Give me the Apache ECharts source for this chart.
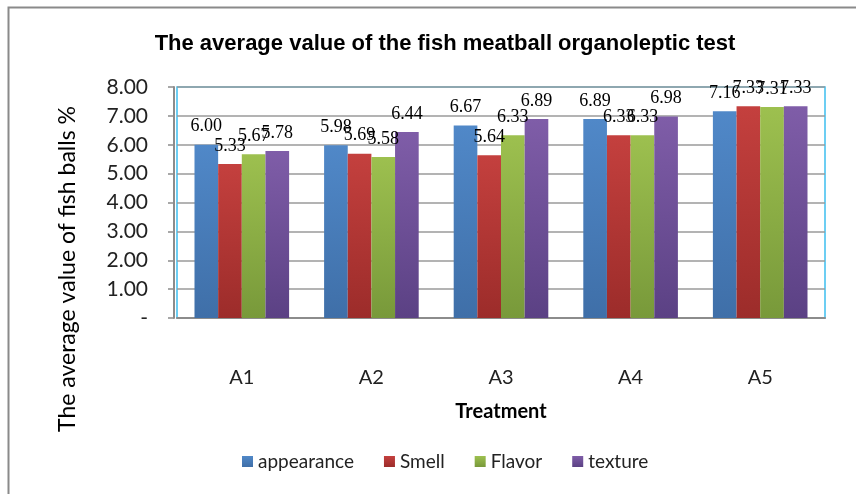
<!DOCTYPE html>
<html>
<head>
<meta charset="utf-8">
<script src="https://cdn.jsdelivr.net/npm/echarts@6/dist/echarts.min.js"></script>
<style>
  html, body { margin: 0; padding: 0; background: #fff; }
  #chart { width: 856px; height: 494px; }
</style>
</head>
<body>
<div id="chart"></div>
<script>
// data
const treatments = ['A1', 'A2', 'A3', 'A4', 'A5'];
const appearance = [6.00, 5.98, 6.67, 6.89, 7.16];
const smell = [5.33, 5.69, 5.64, 6.33, 7.33];
const flavor = [5.67, 5.58, 6.33, 6.33, 7.31];
const texture = [5.78, 6.44, 6.89, 6.98, 7.33];
const yTicks = [0, 1, 2, 3, 4, 5, 6, 7, 8];

const chart = echarts.init(document.getElementById('chart'));

// excel 2007 palette, a bit darker towards the floor
function fill(top, bottom) {
  return new echarts.graphic.LinearGradient(0, 0, 0, 1, [
    { offset: 0, color: top },
    { offset: 1, color: bottom }
  ]);
}

function bar(name, values, top, bottom) {
  return {
    name: name,
    type: 'bar',
    data: values,
    barGap: '0%',
    barCategoryGap: '27%',
    itemStyle: { color: fill(top, bottom) },
    label: {
      show: true,
      position: 'top',
      distance: 9,
      color: '#000',
      fontFamily: 'Liberation Serif',
      fontSize: 18,
      formatter: p => p.value.toFixed(2)
    }
  };
}

const option = {
  animation: false,
  backgroundColor: '#fff',
  color: ['#4F81BD', '#C0504D', '#9BBB59', '#8064A2'],
  title: {
    text: 'The average value of the fish meatball organoleptic test',
    left: 440,
    textAlign: 'center',
    top: 28,
    textStyle: { fontFamily: 'Liberation Sans', fontWeight: 'bold', fontSize: 22, color: '#000' }
  },
  legend: {
    bottom: 18,
    left: 237,
    itemWidth: 11,
    itemHeight: 11,
    itemGap: 30,
    icon: 'rect',
    textStyle: { fontFamily: 'Lato', fontSize: 19, color: '#222' },
    data: ['appearance', 'Smell', 'Flavor', 'texture']
  },
  grid: {
    left: 177,
    right: 31,
    top: 87,
    bottom: 176,
    show: true,
    borderColor: '#3cbff0',
    borderWidth: 1.5,
    backgroundColor: '#fff'
  },
  xAxis: {
    type: 'category',
    data: treatments,
    offset: 2,
    name: 'Treatment',
    nameLocation: 'middle',
    nameGap: 82,
    nameTextStyle: { fontFamily: 'Lato', fontWeight: 'bold', fontSize: 20, color: '#000' },
    axisLine: { lineStyle: { color: '#8c8c8c', width: 2 } },
    axisTick: { show: false },
    axisLabel: { margin: 48, fontFamily: 'Lato', fontSize: 20, color: '#222' }
  },
  yAxis: {
    type: 'value',
    min: 0,
    max: 8,
    interval: 1,
    offset: 3,
    axisLine: { show: true, lineStyle: { color: '#8c8c8c', width: 2 } },
    axisTick: { show: true, length: 6, lineStyle: { color: '#8c8c8c', width: 1.5 } },
    axisLabel: {
      margin: 26,
      fontFamily: 'Lato',
      fontSize: 21,
      color: '#222',
      formatter: v => (yTicks.indexOf(v) === 0 ? '-' : v.toFixed(2))
    },
    splitLine: { lineStyle: { color: '#9a9a9a', width: 1.5 } }
  },
  series: [
    bar('appearance', appearance, '#5088c8', '#3f6fa8'),
    bar('Smell', smell, '#c4403e', '#9c2c2a'),
    bar('Flavor', flavor, '#9dc04f', '#78993a'),
    bar('texture', texture, '#7f5da8', '#5b4184')
  ],
  graphic: [
    {
      type: 'text',
      x: 68,
      y: 269,
      rotation: Math.PI / 2,
      style: {
        text: 'The average value of fish balls %',
        fontFamily: 'Lato',
        fontSize: 23,
        fill: '#000',
        align: 'center',
        verticalAlign: 'middle'
      }
    },
    {
      type: 'polyline',
      silent: true,
      shape: { points: [[8.5, 494], [8.5, 7.5], [856, 7.5]] },
      style: { stroke: '#8a8a8a', lineWidth: 2, fill: null }
    }
  ]
};

chart.setOption(option);
</script>
</body>
</html>
